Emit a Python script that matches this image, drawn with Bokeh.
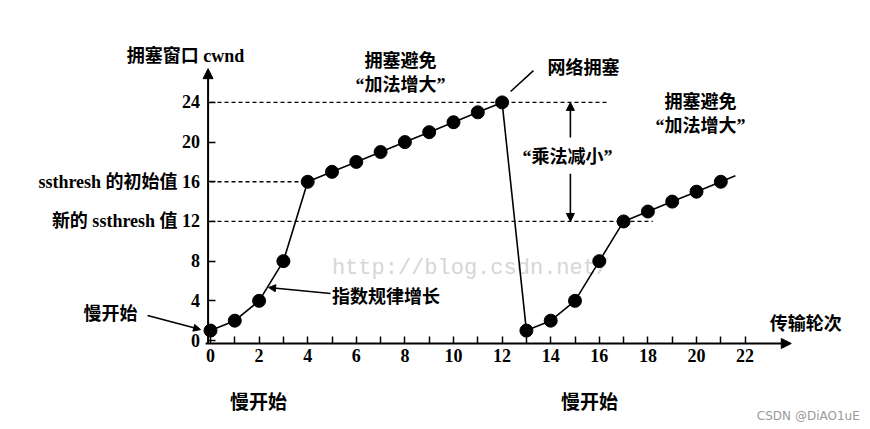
from bokeh.plotting import figure
from bokeh.models import (Range1d, LinearAxis, FixedTicker, Arrow, NormalHead,
                          ColumnDataSource)
from bokeh.core.properties import value
from bokeh.embed import file_html
from bokeh.resources import INLINE

# ---- data ----
rounds = [0, 1, 2, 3, 4, 5, 6, 7, 8, 9, 10, 11, 12, 13, 14, 15, 16, 17, 18, 19, 20, 21]
cwnd = [1, 2, 4, 8, 16, 17, 18, 19, 20, 21, 22, 23, 24, 1, 2, 4, 8, 12, 13, 14, 15, 16]
line_tail_x = [21, 21.6]
line_tail_y = [16, 16.6]
y_ticks = [0, 4, 8, 12, 16, 20, 24]
y_tick_labels = {0: "0", 4: "4", 8: "8", 12: "新的 ssthresh 值 12", 16: "ssthresh 的初始值 16",
                 20: "20", 24: "24"}
x_ticks = list(range(0, 23))
ssthresh_init = 16
ssthresh_new = 12
peak = 24

FONT = "'Liberation Serif', 'Noto Sans CJK SC', serif"
MIX = value(FONT)

p = figure(width=870, height=429, x_range=Range1d(-8.642, 27.16), y_range=Range1d(-8.97, 34.27),
           min_border=0, toolbar_location=None, output_backend="svg",
           x_axis_location=None, y_axis_location=None)
p.grid.visible = False
p.outline_line_color = None
p.background_fill_color = "white"

# axes
xa = LinearAxis(fixed_location=-0.3, ticker=FixedTicker(ticks=x_ticks))
xa.major_label_overrides = {t: (str(t) if t % 2 == 0 else "") for t in x_ticks}
ya = LinearAxis(fixed_location=-0.1, ticker=FixedTicker(ticks=y_ticks))
ya.major_label_overrides = {t: y_tick_labels[t] for t in y_ticks}
for ax in (xa, ya):
    ax.axis_line_color = None
    ax.major_tick_in = 7
    ax.major_tick_out = 0
    ax.major_tick_line_color = "black"
    ax.major_tick_line_width = 1.5
    ax.minor_tick_line_color = None
    ax.major_label_text_font = FONT
    ax.major_label_text_font_style = "bold"
    ax.major_label_text_font_size = "18px"
    ax.major_label_text_color = "black"
xa.major_label_standoff = 6
ya.major_label_standoff = 8
p.add_layout(xa, "below")
p.add_layout(ya, "left")

# axis lines with arrows
p.add_layout(Arrow(end=NormalHead(size=10, fill_color="black", line_color="black"),
                   x_start=-0.2, y_start=-0.3, x_end=23.9, y_end=-0.3,
                   line_width=2, line_color="black"))
p.add_layout(Arrow(end=NormalHead(size=10, fill_color="black", line_color="black"),
                   x_start=-0.1, y_start=-0.3, x_end=-0.1, y_end=27.4,
                   line_width=2, line_color="black"))

# dashed reference lines
p.segment(x0=[0, 0, 0], y0=[peak, ssthresh_init, ssthresh_new],
          x1=[16.3, 4, 18.2], y1=[peak, ssthresh_init, ssthresh_new],
          line_dash="4 3", line_color="black", line_width=1.3)

# watermark text
p.text(x=[10.7], y=[7.26], text=["http://blog.csdn.net/"],
       text_font=value("'Liberation Mono', monospace"),
       text_font_size="22px", text_color="#d6d6d6", text_align="center", text_baseline="middle")

# data line
src = ColumnDataSource(dict(x=rounds, y=cwnd))
p.line("x", "y", source=src, line_color="black", line_width=1.6)
p.line(line_tail_x, line_tail_y, line_color="black", line_width=1.6)
p.scatter("x", "y", source=src, size=13, fill_color="black", line_color="black")

# leader lines and arrows
p.segment(x0=[12.35], y0=[25.1], x1=[13.29], y1=[27.2], line_color="black", line_width=1.6)
head = dict(size=7, fill_color="black", line_color="black")
p.add_layout(Arrow(end=NormalHead(**head), x_start=4.94, y_start=4.74, x_end=2.39, y_end=5.34,
                   line_width=1.6, line_color="black"))
p.add_layout(Arrow(end=NormalHead(**head), x_start=-2.59, y_start=2.52, x_end=-0.41, y_end=1.1,
                   line_width=1.6, line_color="black"))
p.add_layout(Arrow(end=NormalHead(size=8, fill_color="black", line_color="black"),
                   x_start=14.81, y_start=20.46, x_end=14.81, y_end=peak,
                   line_width=1.6, line_color="black"))
p.add_layout(Arrow(end=NormalHead(size=8, fill_color="black", line_color="black"),
                   x_start=14.81, y_start=16.8, x_end=14.81, y_end=ssthresh_new,
                   line_width=1.6, line_color="black"))

# labels
def lab(x, y, t, size="17px", align="center"):
    p.text(x=[x], y=[y], text=[t], text_font=MIX, text_font_style="bold",
           text_font_size=size, text_color="black", text_align=align, text_baseline="middle")

lab(-1.03, 28.7, "拥塞窗口 cwnd", "18px")
lab(7.82, 28.2, "拥塞避免", "18px")
lab(7.82, 25.8, "“加法增大”", "18px")
lab(15.35, 27.5, "网络拥塞", "18px")
lab(20.16, 24.0, "拥塞避免", "18px")
lab(20.16, 21.6, "“加法增大”", "18px")
lab(14.69, 18.45, "“乘法减小”", "18px")
lab(5.0, 4.4, "指数规律增长", "18px", align="left")
lab(-4.12, 2.72, "慢开始", "18px")
lab(24.5, 1.7, "传输轮次", "18px")
lab(1.98, -6.25, "慢开始", "19px")
lab(15.6, -6.25, "慢开始", "19px")

p.text(x=[24.6], y=[-7.56], text=["CSDN @DiAO1uE"], text_font=value("DejaVu Sans"),
       text_font_size="12px", text_color="#9a9a9a", text_align="center", text_baseline="middle")

open("out.html", "w").write(file_html(p, INLINE))
